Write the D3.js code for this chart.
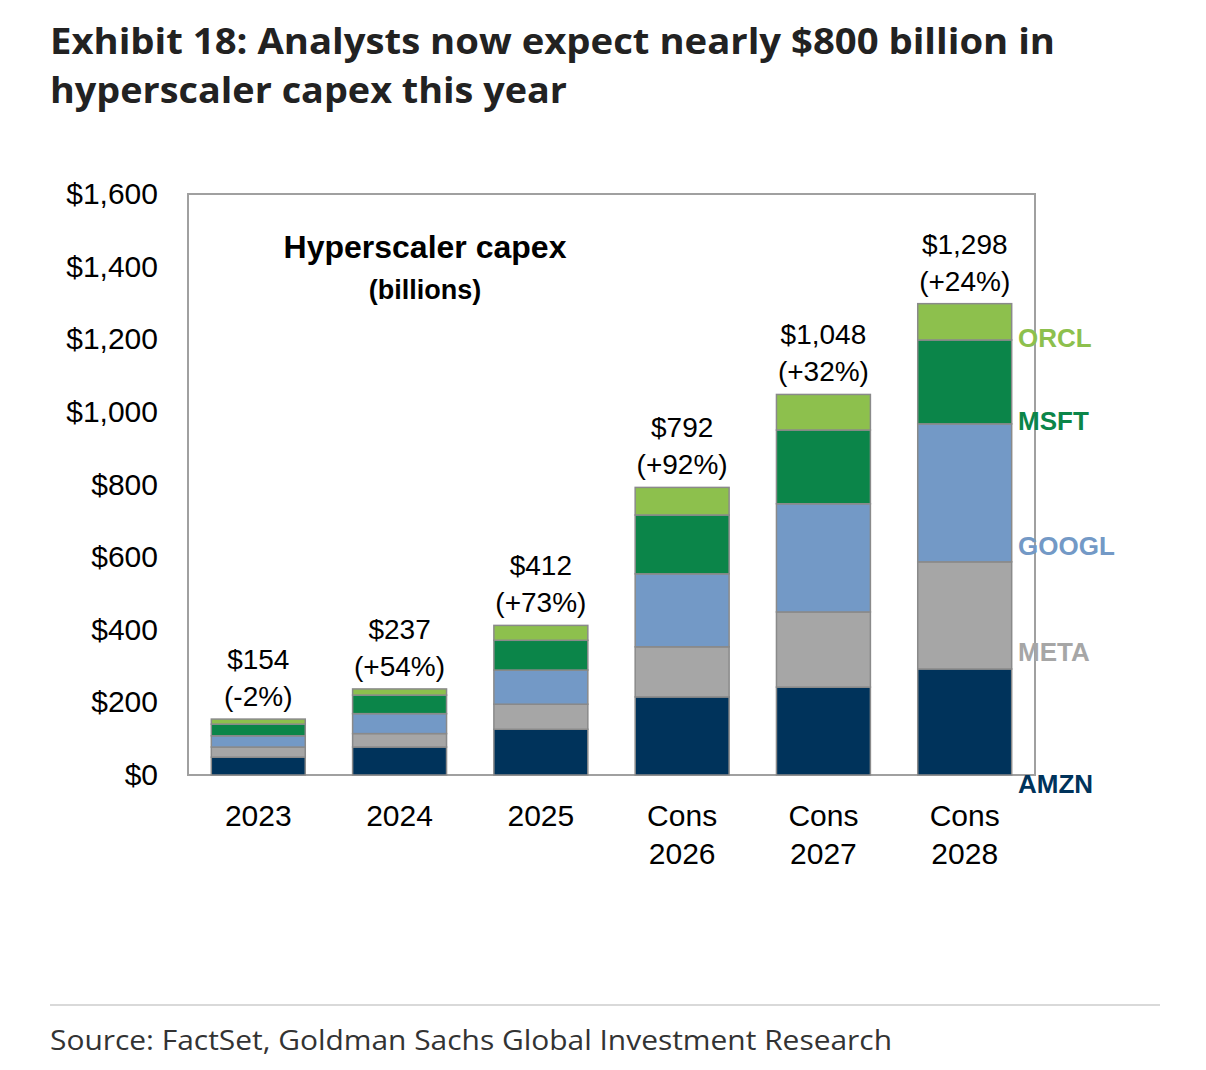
<!DOCTYPE html>
<html><head><meta charset="utf-8">
<script src="https://cdn.jsdelivr.net/npm/d3@7"></script>
<style>body{margin:0;background:#fff;font-family:"Liberation Sans",Arial,sans-serif}</style>
</head><body><svg id="chart" width="1206" height="1070"></svg>
<script>
const years = [["2023"],["2024"],["2025"],["Cons","2026"],["Cons","2027"],["Cons","2028"]]
const series = ["AMZN","META","GOOGL","MSFT","ORCL"]
const colors = ["#00335b","#a6a6a6","#7399c6","#0b8549","#8dc04d"]
const amzn = [49,77,126,215,242,292]
const meta = [28,37,69,138,207,295]
const googl = [31,55,94,201,298,380]
const msft = [32,51,82,162,203,231]
const orcl = [14,17,41,76,98,100]
const totals = ["$154","$237","$412","$792","$1,048","$1,298"]
const growth = ["(-2%)","(+54%)","(+73%)","(+92%)","(+32%)","(+24%)"]
const yTicks = [0,200,400,600,800,1000,1200,1400,1600]

const svg = d3.select("#chart")
const x0 = 188, x1 = 1035, yb = 775, yt = 194
const x = d3.scaleBand().domain(d3.range(6)).range([x0,x1]).paddingInner(0.335).paddingOuter(0.165)
const y = d3.scaleLinear().domain([0,1600]).range([yb,yt])

const titleFont = "'Open Sans',sans-serif"
svg.append("text").attr("x",50).attr("y",54).text("Exhibit 18: Analysts now expect nearly $800 billion in")
  .style("font-family",titleFont).style("font-weight","bold").style("font-size","35.5px").attr("fill","#222")
  .attr("textLength",1005).attr("lengthAdjust","spacingAndGlyphs")
svg.append("text").attr("x",50).attr("y",103).text("hyperscaler capex this year")
  .style("font-family",titleFont).style("font-weight","bold").style("font-size","35.5px").attr("fill","#222")
  .attr("textLength",517).attr("lengthAdjust","spacingAndGlyphs")

svg.append("rect").attr("x",x0).attr("y",yt).attr("width",x1-x0).attr("height",yb-yt)
  .attr("fill","none").attr("stroke","#a0a0a0").attr("stroke-width",2)

const yAxis = svg.append("g").attr("transform",`translate(${x0},0)`)
  .call(d3.axisLeft(y).tickValues(yTicks).tickSize(0).tickPadding(30).tickFormat(d => "$" + d3.format(",")(d)))
yAxis.select(".domain").remove()
yAxis.selectAll("text").style("font-size","30px").style("font-family","'Liberation Sans',Arial").attr("fill","#000")

const rows = d3.range(6).map(i => ({AMZN:amzn[i],META:meta[i],GOOGL:googl[i],MSFT:msft[i],ORCL:orcl[i]}))
const stacked = d3.stack().keys(series)(rows)
stacked.forEach((s,k) => {
  svg.append("g").selectAll("rect").data(s).join("rect")
    .attr("x",(d,i) => x(i)).attr("width",x.bandwidth())
    .attr("y",d => y(d[1])).attr("height",d => y(d[0]) - y(d[1]))
    .attr("fill",colors[k]).attr("stroke","#8a8a8a").attr("stroke-width",1.5)
})

d3.range(6).forEach(i => {
  const top = y(stacked[4][i][1]), cx = x(i) + x.bandwidth()/2
  svg.append("text").attr("x",cx).attr("y",top-50).attr("text-anchor","middle").style("font-size","28px").text(totals[i])
  svg.append("text").attr("x",cx).attr("y",top-13).attr("text-anchor","middle").style("font-size","28px").text(growth[i])
  years[i].forEach((t,j) => svg.append("text").attr("x",cx).attr("y",826 + j*38)
    .attr("text-anchor","middle").style("font-size","30px").text(t))
})

// series labels right of last bar
const labelY = [786,654,548,423,340]
series.forEach((s,k) => {
  svg.append("text").attr("x",1018).attr("y",labelY[k]).attr("dominant-baseline","middle")
    .style("font-size","26px").style("font-weight","bold").attr("fill",colors[k]).text(s)
})

svg.append("text").attr("x",425).attr("y",258).attr("text-anchor","middle")
  .style("font-size","32px").style("font-weight","bold").text("Hyperscaler capex")
svg.append("text").attr("x",425).attr("y",299).attr("text-anchor","middle")
  .style("font-size","27px").style("font-weight","bold").text("(billions)")

svg.append("line").attr("x1",50).attr("x2",1160).attr("y1",1005).attr("y2",1005).attr("stroke","#ccc").attr("stroke-width",1.5)
svg.append("text").attr("x",50).attr("y",1050).text("Source: FactSet, Goldman Sachs Global Investment Research")
  .style("font-family",titleFont).style("font-size","28px").attr("fill","#333")
  .attr("textLength",842).attr("lengthAdjust","spacingAndGlyphs")
</script></body></html>
